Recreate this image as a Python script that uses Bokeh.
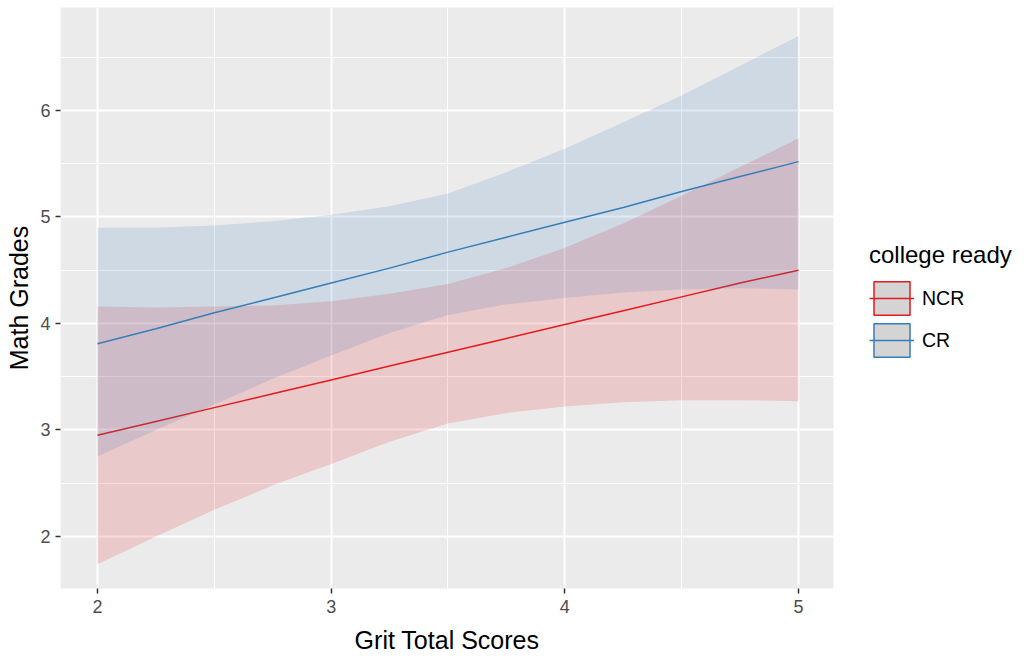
from bokeh.plotting import figure
from bokeh.models import Range1d, Legend, LegendItem, FixedTicker
from bokeh.embed import file_html
from bokeh.resources import INLINE

# ---- data ----
grit = [2.0, 2.25, 2.5, 2.75, 3.0, 3.25, 3.5, 3.75, 4.0, 4.25, 4.5, 4.75, 5.0]

ncr_fit = [2.95, 3.08, 3.21, 3.34, 3.47, 3.60, 3.73, 3.86, 3.99, 4.12, 4.25, 4.38, 4.50]
ncr_lower = [1.74, 2.00, 2.25, 2.48, 2.68, 2.89, 3.06, 3.16, 3.22, 3.26, 3.28, 3.28, 3.27]
ncr_upper = [4.16, 4.15, 4.16, 4.17, 4.21, 4.28, 4.37, 4.52, 4.71, 4.94, 5.20, 5.47, 5.74]

cr_fit = [3.81, 3.95, 4.10, 4.24, 4.38, 4.52, 4.67, 4.81, 4.95, 5.09, 5.24, 5.38, 5.52]
cr_lower = [2.75, 3.00, 3.24, 3.48, 3.70, 3.91, 4.08, 4.18, 4.24, 4.29, 4.32, 4.33, 4.32]
cr_upper = [4.90, 4.90, 4.92, 4.96, 5.02, 5.10, 5.22, 5.42, 5.64, 5.89, 6.14, 6.42, 6.70]

groups = ["NCR", "CR"]
x_ticks = [2, 3, 4, 5]
y_ticks = [2, 3, 4, 5, 6]

RED = "#E41A1C"
BLUE = "#377EB8"
FONT = "Liberation Sans"

p = figure(
    frame_width=773, frame_height=581,
    x_range=Range1d(1.8417, 5.1498), y_range=Range1d(1.5117, 6.967),
    output_backend="svg", toolbar_location=None,
    min_border_left=60, min_border_right=183, min_border_top=7, min_border_bottom=67,
)
p.background_fill_color = "#EBEBEB"
p.border_fill_color = "white"
p.outline_line_color = None

# grids
p.xaxis.ticker = FixedTicker(ticks=x_ticks, minor_ticks=[2.5, 3.5, 4.5])
p.yaxis.ticker = FixedTicker(ticks=y_ticks, minor_ticks=[1.5, 2.5, 3.5, 4.5, 5.5, 6.5])
for g in (p.xgrid, p.ygrid):
    g.grid_line_color = "white"
    g.grid_line_width = 2
    g.minor_grid_line_color = "white"
    g.minor_grid_line_width = 1

# axes
for ax in (p.xaxis, p.yaxis):
    ax.axis_line_color = None
    ax.major_tick_in = 0
    ax.major_tick_out = 5
    ax.major_tick_line_color = "#333333"
    ax.major_tick_line_width = 1.5
    ax.minor_tick_line_color = None
    ax.major_label_text_font = FONT
    ax.major_label_text_font_size = "18px"
    ax.major_label_text_color = "#4D4D4D"
    ax.axis_label_text_font = FONT
    ax.axis_label_text_font_size = "25px"
    ax.axis_label_text_font_style = "normal"
    ax.axis_label_text_color = "black"

p.xaxis.axis_label = "Grit Total Scores"
p.yaxis.axis_label = "Math Grades"
p.xaxis.major_label_standoff = 6
p.xaxis.axis_label_standoff = 10
p.yaxis.major_label_standoff = 5
p.yaxis.axis_label_standoff = 4

# NCR band + line
p.varea(x=grit, y1=ncr_lower, y2=ncr_upper, fill_color=RED, fill_alpha=0.16)
ncr_line = p.line(grit, ncr_fit, line_color=RED, line_width=1.5)
# CR band + line
p.varea(x=grit, y1=cr_lower, y2=cr_upper, fill_color=BLUE, fill_alpha=0.16)
cr_line = p.line(grit, cr_fit, line_color=BLUE, line_width=1.5)

# legend key boxes (hidden renderers used only for the legend glyph)
ncr_key = p.quad(left=[grit[0]], right=[grit[-1]], bottom=[min(ncr_lower)], top=[max(ncr_upper)],
                 fill_color="#D4D4D4", line_color=RED, line_width=1.5, visible=False)
cr_key = p.quad(left=[grit[0]], right=[grit[-1]], bottom=[min(cr_lower)], top=[max(cr_upper)],
                fill_color="#D4D4D4", line_color=BLUE, line_width=1.5, visible=False)

legend = Legend(
    items=[
        LegendItem(label=groups[0], renderers=[ncr_key, ncr_line]),
        LegendItem(label=groups[1], renderers=[cr_key, cr_line]),
    ],
    location=(36, 227),
    title="college ready",
    title_text_font=FONT,
    title_text_font_size="24px",
    title_text_font_style="normal",
    title_text_color="black",
    title_standoff=8,
    label_text_font=FONT,
    label_text_font_size="19.5px",
    label_text_color="black",
    glyph_width=45,
    glyph_height=42,
    spacing=-2,
    label_standoff=8,
    padding=0,
    margin=0,
    border_line_alpha=0,
    background_fill_alpha=0,
)
p.add_layout(legend, "right")

open("out.html", "w").write(file_html(p, INLINE))
